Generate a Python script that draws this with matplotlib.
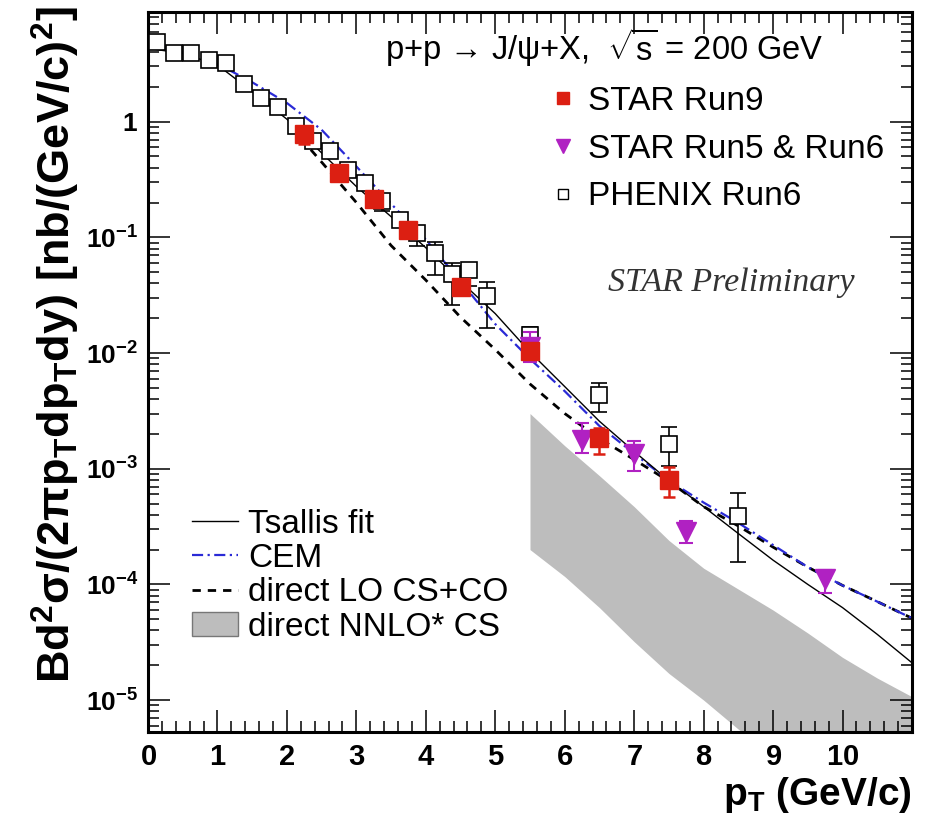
import numpy as np
import matplotlib
matplotlib.use('Agg')
import matplotlib.pyplot as plt
import matplotlib.ticker as ticker
from matplotlib.lines import Line2D
from matplotlib.patches import Patch

plt.rcParams['font.family'] = ['Liberation Sans', 'DejaVu Sans']
plt.rcParams['mathtext.fontset'] = 'custom'
plt.rcParams['mathtext.rm'] = 'Liberation Sans'
plt.rcParams['mathtext.it'] = 'Liberation Sans:italic'
plt.rcParams['mathtext.bf'] = 'Liberation Sans:bold'

# PHENIX Run6
phenix_pt = [0.125, 0.375, 0.625, 0.875, 1.125, 1.375, 1.625, 1.875, 2.125, 2.375,
             2.625, 2.875, 3.125, 3.375, 3.625, 3.875, 4.125, 4.375, 4.625, 4.875,
             5.5, 6.5, 7.5, 8.5]
phenix_y = [4.9, 3.9, 3.9, 3.4, 3.2, 2.1, 1.6, 1.33, 0.92, 0.68,
            0.56, 0.38, 0.295, 0.205, 0.142, 0.11, 0.073, 0.048, 0.052, 0.031,
            0.0143, 0.0043, 0.00163, 3.9e-4]
phenix_lo = [4.8, 3.8, 3.8, 3.3, 3.1, 2.05, 1.55, 1.29, 0.89, 0.66,
             0.54, 0.36, 0.28, 0.17, 0.125, 0.085, 0.047, 0.026, 0.038, 0.0164,
             0.0121, 0.0031, 0.00106, 1.55e-4]
phenix_hi = [5.0, 4.0, 4.0, 3.5, 3.3, 2.15, 1.65, 1.37, 0.95, 0.70,
             0.58, 0.40, 0.31, 0.235, 0.158, 0.125, 0.091, 0.0605, 0.0605, 0.0413,
             0.0167, 0.0055, 0.0023, 6.2e-4]

# STAR Run9
run9_pt = [2.25, 2.75, 3.25, 3.75, 4.5, 5.5, 6.5, 7.5]
run9_y = [0.79, 0.36, 0.213, 0.115, 0.0375, 0.0104, 0.00183, 8.0e-4]
run9_lo = [0.64, 0.31, 0.19, 0.10, 0.033, 0.0091, 0.00134, 5.7e-4]
run9_hi = [0.91, 0.41, 0.24, 0.13, 0.042, 0.012, 0.00225, 1.04e-3]

# STAR Run5 & Run6
run56_pt = [5.5, 6.25, 7.0, 7.75, 9.75]
run56_y = [0.0112, 0.00177, 0.00134, 2.86e-4, 1.11e-4]
run56_lo = [0.0084, 0.00138, 9.5e-4, 2.3e-4, 8.5e-5]
run56_hi = [0.0151, 0.0025, 0.00175, 3.5e-4, 1.34e-4]

# Tsallis fit
tsallis_pt = [0, 0.5, 1.0, 1.5, 2.0, 2.5, 3.0, 3.5, 4.0, 4.5, 5.0, 5.5, 6.0, 6.5,
              7.0, 7.5, 8.0, 8.5, 9.0, 9.5, 10.0, 10.5, 11.0]
tsallis_y = [4.31, 3.89, 3.09, 1.82, 1.05, 0.537, 0.275, 0.151, 0.0813, 0.0417,
             0.0219, 0.0102, 0.00513, 0.00257, 0.00141, 7.9e-4, 4.7e-4, 2.75e-4,
             1.62e-4, 1.0e-4, 6.3e-5, 3.7e-5, 2.1e-5]

# CEM
cem_pt = [0.25, 0.5, 1.0, 1.5, 2.0, 2.5, 3.0, 3.5, 4.0, 4.5, 5.0, 5.5, 6.0, 6.5,
          7.0, 7.5, 8.0, 8.5, 9.0, 9.5, 10.0, 10.5, 11.0]
cem_y = [4.17, 3.98, 3.16, 2.19, 1.45, 0.85, 0.41, 0.195, 0.0955, 0.0417,
         0.0178, 0.0089, 0.00468, 0.00234, 0.00135, 7.9e-4, 5.1e-4, 3.4e-4,
         2.19e-4, 1.41e-4, 9.8e-5, 7.1e-5, 5.1e-5]

# direct LO CS+CO
lo_pt = [2.2, 2.5, 3.0, 3.5, 4.0, 4.5, 5.0, 5.5, 6.0, 6.5, 7.0, 7.5, 8.0, 8.5,
         9.0, 9.5, 10.0, 10.5, 11.0]
lo_y = [0.72, 0.447, 0.20, 0.085, 0.0427, 0.0204, 0.0107, 0.0054, 0.0030, 0.00182,
        0.0012, 7.8e-4, 4.7e-4, 3.2e-4, 2.1e-4, 1.41e-4, 9.8e-5, 7.1e-5, 5.1e-5]

# direct NNLO* CS band
nnlo_pt = [5.5, 6.0, 6.5, 7.0, 7.5, 8.0, 8.5, 9.0, 9.5, 10.0, 10.5, 11.0]
nnlo_hi = [3.0e-3, 1.58e-3, 8.7e-4, 4.7e-4, 2.4e-4, 1.38e-4, 9.1e-5, 6.0e-5,
           3.8e-5, 2.34e-5, 1.55e-5, 1.07e-5]
nnlo_lo = [2.0e-4, 1.17e-4, 6.3e-5, 3.2e-5, 1.7e-5, 1.0e-5, 5.6e-6, 3.4e-6,
           2.5e-6, 1.8e-6, 1.26e-6, 9e-7]

red = '#dc1f12'
purple = '#b021c2'
blue = '#2a2ad6'
grey = '#bdbdbd'

fig = plt.figure(figsize=(9.25, 8.21), dpi=100)
ax = fig.add_axes([148/925, 89/821, 764/925, 720/821])

ax.fill_between(nnlo_pt, nnlo_lo, nnlo_hi, color=grey, lw=0, zorder=1)
ax.plot(lo_pt, lo_y, color='k', ls=(0, (3, 2.5)), lw=2.0, zorder=2)
ax.plot(cem_pt, cem_y, color=blue, ls=(0, (5, 2, 1, 2)), lw=1.6, zorder=3)
ax.plot(tsallis_pt, tsallis_y, color='k', lw=1.0, zorder=4)

def err(y, lo, hi):
    y = np.array(y)
    return [y - np.array(lo), np.array(hi) - y]

ax.errorbar(phenix_pt, phenix_y, yerr=err(phenix_y, phenix_lo, phenix_hi), fmt='s',
            mfc='white', mec='k', ms=11, mew=1.2, ecolor='k', elinewidth=1.2,
            capsize=5.5, capthick=1.2, zorder=5)
ax.errorbar(run56_pt, run56_y, yerr=err(run56_y, run56_lo, run56_hi), fmt='v',
            color=purple, ms=15, ecolor=purple, elinewidth=1.5,
            capsize=5, capthick=1.5, zorder=6)
ax.errorbar(run9_pt, run9_y, yerr=err(run9_y, run9_lo, run9_hi), fmt='s',
            color=red, ms=13, ecolor=red, elinewidth=1.8,
            capsize=4.5, capthick=1.8, zorder=7)

ax.set_yscale('log')
ax.set_xlim(0, 11)
ax.set_ylim(5.3e-6, 8.87)

ax.set_xticks(range(0, 11))
ax.xaxis.set_minor_locator(ticker.MultipleLocator(0.2))
ax.yaxis.set_major_locator(ticker.LogLocator(base=10, numticks=20))
ax.yaxis.set_minor_locator(ticker.LogLocator(base=10, subs=np.arange(2, 10), numticks=20))
ax.yaxis.set_minor_formatter(ticker.NullFormatter())

def ylab(v, pos):
    e = int(round(np.log10(v)))
    if e == 0:
        return r'$\mathbf{1}$'
    return r'$\mathbf{10^{%d}}$' % e

ax.yaxis.set_major_formatter(ticker.FuncFormatter(ylab))
ax.xaxis.set_major_formatter(ticker.FuncFormatter(lambda v, p: r'$\mathbf{%d}$' % v))

ax.tick_params(which='both', direction='in', top=True, right=True, width=1.1)
ax.tick_params(which='major', length=16)
ax.tick_params(axis='x', which='major', pad=8, labelsize=21)
ax.tick_params(axis='y', which='major', pad=7, labelsize=19)
ax.tick_params(which='minor', length=8)
for s in ax.spines.values():
    s.set_linewidth(2.2)

fig.text(912/925, 1 - 795/821, r'$\mathbf{p_{T}}$ $\mathbf{(GeV/c)}$',
         ha='right', va='center', fontsize=28)
fig.text(56/925, 1 - 6/821,
         r'$\mathbf{Bd^{2}\sigma/(2\pi p_{T}dp_{T}dy)\ [nb/(GeV/c)^{2}]}$',
         rotation=90, ha='center', va='top', fontsize=32.5)

# header and marker legend
ax.text(0.31, 0.95, r'p+p → J/ψ+X,  $\sqrt{\mathrm{s}}$ = 200 GeV',
        transform=ax.transAxes, fontsize=23.5, ha='left', va='center')
mk = [Line2D([], [], ls='none', marker='s', color=red, ms=9),
      Line2D([], [], ls='none', marker='v', color=purple, ms=10),
      Line2D([], [], ls='none', marker='s', mfc='white', mec='k', ms=7, mew=1.0)]
leg1 = ax.legend(mk, ['STAR Run9', 'STAR Run5 & Run6', 'PHENIX Run6'],
                 loc='upper left', bbox_to_anchor=(0.526, 0.897), frameon=False,
                 fontsize=24, handlelength=0.8, handletextpad=0.35,
                 labelspacing=0.5, borderpad=0, borderaxespad=0)
ax.add_artist(leg1)

ax.text(0.925, 0.624, 'STAR Preliminary', transform=ax.transAxes, ha='right',
        va='center', fontsize=24.5, family='Liberation Serif', style='italic',
        color='#333333')

ln = [Line2D([], [], color='k', lw=1.0),
      Line2D([], [], color=blue, ls=(0, (5, 2, 1, 2)), lw=1.6),
      Line2D([], [], color='k', ls=(0, (3, 2.5)), lw=2.0),
      Patch(facecolor=grey, edgecolor='#777777', lw=1.0)]
leg2 = ax.legend(ln, ['Tsallis fit', 'CEM', 'direct LO CS+CO', 'direct NNLO* CS'],
                 loc='upper left', bbox_to_anchor=(0.057, 0.31), frameon=False,
                 fontsize=24, handlelength=1.4, handletextpad=0.3,
                 labelspacing=0.1, borderpad=0, borderaxespad=0)

fig.savefig('out.png', dpi=100)
